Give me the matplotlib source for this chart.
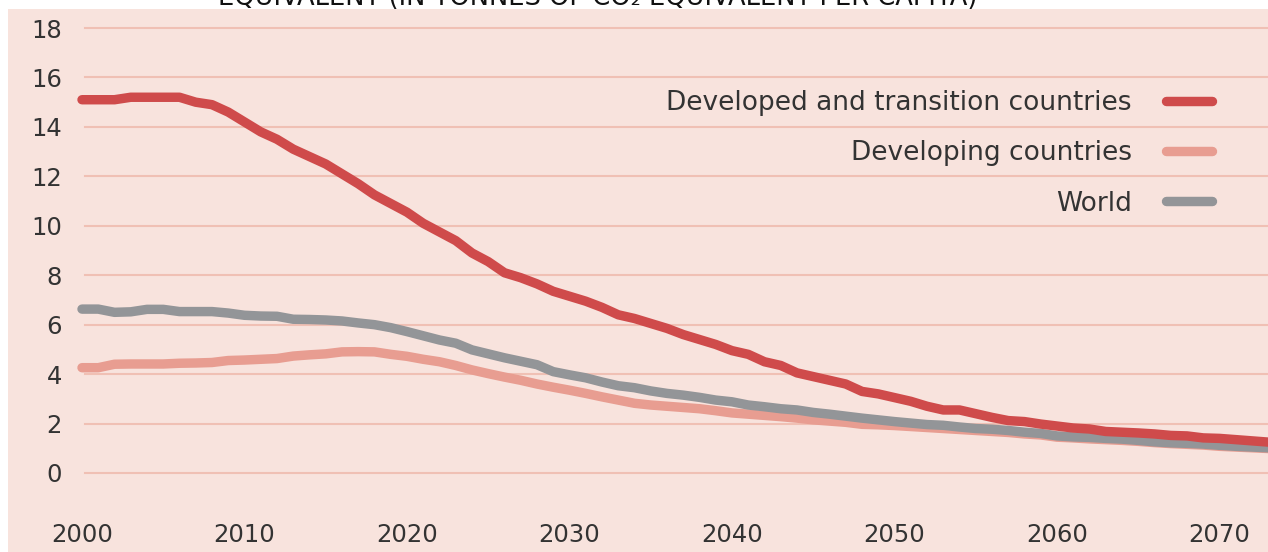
import matplotlib.pyplot as plt
from matplotlib.patches import Rectangle
import numpy as np

# years 2000..2073
years = np.arange(2000, 2074)

developed = [15.1, 15.1, 15.1, 15.2, 15.2, 15.2, 15.2, 15.0, 14.9, 14.6,
             14.2, 13.8, 13.5, 13.1, 12.8, 12.5, 12.1, 11.7, 11.25, 10.9,
             10.55, 10.1, 9.75, 9.4, 8.9, 8.55, 8.1, 7.9, 7.65, 7.35,
             7.15, 6.95, 6.7, 6.4, 6.25, 6.05, 5.85, 5.6, 5.4, 5.2,
             4.95, 4.8, 4.5, 4.35, 4.05, 3.9, 3.75, 3.6, 3.3, 3.2,
             3.05, 2.9, 2.7, 2.55, 2.55, 2.4, 2.25, 2.12, 2.08, 1.98,
             1.9, 1.82, 1.78, 1.68, 1.65, 1.62, 1.58, 1.52, 1.5, 1.42,
             1.4, 1.35, 1.3, 1.25]

developing = [4.26, 4.26, 4.4, 4.41, 4.41, 4.41, 4.44, 4.45, 4.47, 4.55,
              4.57, 4.6, 4.63, 4.73, 4.78, 4.82, 4.9, 4.91, 4.9, 4.8,
              4.72, 4.6, 4.5, 4.35, 4.17, 4.02, 3.88, 3.75, 3.6, 3.47,
              3.35, 3.22, 3.08, 2.95, 2.82, 2.75, 2.7, 2.65, 2.6, 2.52,
              2.43, 2.38, 2.33, 2.28, 2.22, 2.15, 2.1, 2.05, 1.97, 1.95,
              1.92, 1.88, 1.84, 1.8, 1.76, 1.72, 1.68, 1.64, 1.58, 1.54,
              1.45, 1.42, 1.38, 1.35, 1.32, 1.28, 1.23, 1.19, 1.16, 1.13,
              1.08, 1.05, 1.02, 0.99]

world = [6.63, 6.63, 6.5, 6.52, 6.62, 6.62, 6.53, 6.53, 6.53, 6.47,
         6.38, 6.35, 6.34, 6.22, 6.21, 6.19, 6.15, 6.07, 6.0, 5.88,
         5.72, 5.55, 5.38, 5.25, 4.98, 4.82, 4.66, 4.52, 4.38, 4.1,
         3.97, 3.85, 3.68, 3.53, 3.45, 3.32, 3.22, 3.15, 3.06, 2.95,
         2.88, 2.75, 2.68, 2.6, 2.55, 2.45, 2.38, 2.3, 2.22, 2.15,
         2.08, 2.02, 1.96, 1.93, 1.86, 1.8, 1.77, 1.72, 1.65, 1.6,
         1.5, 1.46, 1.44, 1.4, 1.37, 1.32, 1.26, 1.22, 1.2, 1.17,
         1.12, 1.08, 1.05, 1.02]

labels = ['Developed and transition countries', 'Developing countries', 'World']
colors = ['#cf4b4b', '#e89d91', '#939598']

xticks = list(range(2000, 2080, 10))
yticks = list(range(0, 20, 2))

bg = '#f8e3dd'
gridc = '#f0c0b4'
textc = '#333333'
W, H = 1268, 552

fig = plt.figure(figsize=(W / 100, H / 100), dpi=100, facecolor='white')

# pink panel behind the axes
fig.patches.append(Rectangle((8 / W, 0), 1, 1 - 9 / H, transform=fig.transFigure,
                             facecolor=bg, edgecolor='none', zorder=-10))

# cut-off title at the very top
fig.text(598 / W, 1 - 5 / H, 'EQUIVALENT (IN TONNES OF CO\u2082 EQUIVALENT PER CAPITA)',
         ha='center', va='baseline', fontsize=18.5, color='#111111')

# axes: x 2000 at px 82, 16.25 px/yr ; y 0 at px 473, 24.72 px/unit
x0px = 82
xmax = 2000 + (W - x0px) / 16.25
ybot, ytop = -1.7, 18.5
bot_px = 473 - ybot * 24.72
top_px = 473 - ytop * 24.72
ax = fig.add_axes([x0px / W, 1 - bot_px / H, (W - x0px) / W, (bot_px - top_px) / H])
ax.patch.set_visible(False)
ax.set_xlim(2000, xmax)
ax.set_ylim(ybot, ytop)

for s in ax.spines.values():
    s.set_visible(False)

for y in yticks:
    ax.axhline(y, xmin=3 / (W - x0px), xmax=1, color=gridc, lw=1.5, zorder=1)

lw = 6.8
ax.plot(years, developing, color=colors[1], lw=lw, solid_capstyle='round',
        solid_joinstyle='round', clip_on=False, zorder=3, label=labels[1])
ax.plot(years, world, color=colors[2], lw=lw, solid_capstyle='round',
        solid_joinstyle='round', clip_on=False, zorder=4, label=labels[2])
ax.plot(years, developed, color=colors[0], lw=lw, solid_capstyle='round',
        solid_joinstyle='round', clip_on=False, zorder=5, label=labels[0])

ax.set_xticks(xticks)
ax.set_yticks(yticks)
ax.tick_params(axis='both', length=0, labelsize=17.5, labelcolor=textc)
ax.tick_params(axis='y', pad=14.5)
ax.tick_params(axis='x', pad=5.5)

# legend: text on the left, key on the right
handles, lbls = ax.get_legend_handles_labels()
order = [lbls.index(l) for l in labels]
leg = ax.legend([handles[i] for i in order], [lbls[i] for i in order],
                loc='upper right', bbox_to_anchor=(1212 / W, 1 - 90 / H),
                bbox_transform=fig.transFigure, frameon=False, markerfirst=False,
                fontsize=19, handlelength=1.75, handletextpad=1.3,
                labelspacing=0.92, borderpad=0, borderaxespad=0)
for t in leg.get_texts():
    t.set_color(textc)
    t.set_ha('right')
for h in leg.get_lines():
    h.set_solid_capstyle('round')

fig.savefig('out.png', dpi=100, facecolor='white')
